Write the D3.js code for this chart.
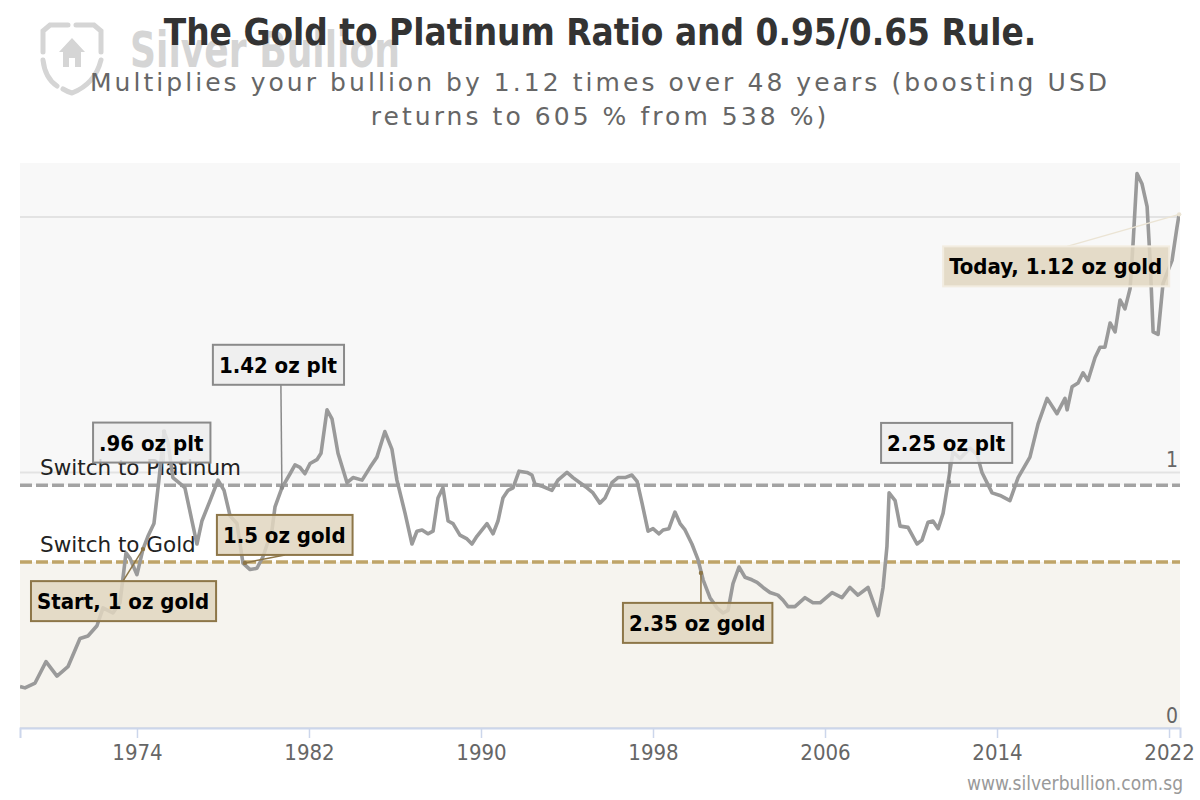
<!DOCTYPE html>
<html><head><meta charset="utf-8">
<script src="https://cdn.jsdelivr.net/npm/d3@7/dist/d3.min.js"></script>
<style>
body{margin:0;background:#fff}
svg{display:block}
text{font-family:"DejaVu Sans Condensed","DejaVu Sans",sans-serif}
</style>
</head><body>
<svg id="chart" width="1200" height="800"></svg>
<script>
// ---------- DATA ----------
const years = [1968.56,1968.79,1969.26,1969.77,1970.28,1970.79,1971.35,1971.72,1972.14,1972.42,1972.88,1973.21,1973.49,1973.67,1974.00,1974.28,1974.51,1974.79,1975.02,1975.26,1975.44,1975.67,1976.09,1976.23,1976.56,1976.79,1977.02,1977.40,1977.77,1978.05,1978.33,1978.65,1978.93,1979.26,1979.58,1979.86,1980.28,1980.42,1980.74,1981.12,1981.35,1981.58,1981.81,1982.05,1982.37,1982.56,1982.84,1983.07,1983.35,1983.77,1984.05,1984.47,1984.84,1985.16,1985.53,1985.86,1986.09,1986.47,1986.79,1987.02,1987.26,1987.53,1987.77,1988.00,1988.23,1988.47,1988.70,1989.02,1989.35,1989.58,1989.81,1990.28,1990.56,1990.79,1991.02,1991.26,1991.49,1991.77,1992.14,1992.37,1992.51,1992.88,1993.30,1993.58,1994.00,1994.28,1994.60,1994.93,1995.21,1995.53,1995.77,1996.09,1996.37,1996.70,1997.02,1997.26,1997.49,1997.77,1998.00,1998.28,1998.47,1998.74,1999.02,1999.26,1999.49,1999.81,2000.09,2000.33,2000.65,2000.98,2001.26,2001.49,2001.72,2002.00,2002.28,2002.60,2002.84,2003.12,2003.44,2003.81,2004.05,2004.28,2004.60,2005.07,2005.44,2005.77,2006.33,2006.79,2007.16,2007.53,2008.00,2008.47,2008.70,2008.88,2008.98,2009.26,2009.49,2009.86,2010.28,2010.51,2010.79,2011.02,2011.26,2011.49,2011.72,2011.95,2012.28,2012.74,2013.07,2013.30,2013.77,2014.14,2014.60,2014.98,2015.53,2015.91,2016.33,2016.79,2017.16,2017.26,2017.49,2017.77,2018.00,2018.23,2018.56,2018.79,2019.02,2019.26,2019.49,2019.72,2019.95,2020.19,2020.33,2020.51,2020.74,2020.98,2021.12,2021.26,2021.49,2021.72,2022.14,2022.37,2022.47];
const ratio = [0.162,0.157,0.176,0.26,0.203,0.24,0.35,0.36,0.40,0.47,0.45,0.49,0.685,0.665,0.60,0.70,0.75,0.80,0.97,1.16,1.12,0.98,0.95,0.94,0.81,0.72,0.81,0.89,0.97,0.93,0.83,0.80,0.645,0.62,0.625,0.67,0.775,0.865,0.94,0.995,1.03,1.02,0.995,1.035,1.05,1.075,1.245,1.21,1.075,0.96,0.98,0.97,1.02,1.06,1.16,1.09,0.97,0.84,0.72,0.77,0.775,0.76,0.77,0.90,0.94,0.81,0.80,0.755,0.74,0.72,0.75,0.80,0.76,0.81,0.90,0.93,0.94,1.005,1.00,0.99,0.955,0.945,0.93,0.97,1.00,0.98,0.96,0.94,0.92,0.88,0.90,0.96,0.98,0.98,0.99,0.965,0.88,0.77,0.78,0.76,0.775,0.78,0.845,0.80,0.775,0.72,0.66,0.58,0.51,0.47,0.45,0.46,0.565,0.63,0.59,0.58,0.57,0.55,0.53,0.52,0.50,0.475,0.475,0.51,0.49,0.49,0.53,0.51,0.55,0.52,0.55,0.44,0.55,0.71,0.92,0.89,0.79,0.785,0.72,0.735,0.805,0.81,0.78,0.84,0.96,1.08,1.055,1.095,1.07,1.00,0.92,0.91,0.89,0.98,1.06,1.19,1.29,1.23,1.29,1.245,1.335,1.35,1.39,1.36,1.45,1.49,1.49,1.585,1.55,1.675,1.64,1.72,1.90,2.17,2.13,2.04,1.83,1.55,1.54,1.74,1.83,1.96,2.01];
const xTickYears = [1974,1982,1990,1998,2006,2014,2022];
const yGridValues = [0,1,2];
const yTickLabels = [0,1];
const switchLevels = [0.95,0.65];
const switchLabels = ["Switch to Platinum","Switch to Gold"];
const annoTexts  = ["Start, 1 oz gold",".96 oz plt","1.42 oz plt","1.5 oz gold","2.35 oz gold","2.25 oz plt","Today, 1.12 oz gold"];
const annoYears  = [1974.28,1975.26,1980.74,1979.02,2000.23,2011.77,2022.47];
const annoValues = [0.70,1.16,0.94,0.646,0.607,0.963,2.01];
const annoKinds  = ["gold","plt","plt","gold","gold","plt","today"];
const titleText = "The Gold to Platinum Ratio and 0.95/0.65 Rule.";
const subtitleLines = ["Multiplies your bullion by 1.12 times over 48 years (boosting USD","returns to 605 % from 538 %)"];
const creditText = "www.silverbullion.com.sg";

// ---------- LAYOUT (pixels, not data) ----------
const plot = {left:20,right:1180,top:163,bottom:728};
const annoLayout = [
  {dx:-112,dy:32,cx:92},
  {dx:-71,dy:-9,cx:71},
  {dx:-69,dy:-143,cx:68},
  {dx:-28,dy:-48,cx:68},
  {dx:-78,dy:30,cx:78},
  {dx:-68,dy:-59,cx:68},
  {dx:-236,dy:32,cx:124}
];
const styles = {
  gold:{fill:"#e1d6bf",stroke:"#8d7648",conn:"#8d7648",op:0.85},
  plt:{fill:"#ededed",stroke:"#8a8a8a",conn:"#8a8a8a",op:0.85},
  today:{fill:"#e1d6bf",stroke:"#f2ece0",conn:"#ebe4d4",op:0.85}
};

const svg = d3.select("#chart");
const x = d3.scaleLinear().domain([1968.56,2022.51]).range([plot.left,plot.right]);
const y = d3.scaleLinear().domain([0,2.211]).range([plot.bottom,plot.top]);

// watermark
const wmc = "#d5d5d5";
const wm = svg.append("g").attr("fill","none").attr("stroke",wmc).attr("stroke-width",5).attr("stroke-linecap","round");
wm.append("path").attr("d","M68,25 L50,25 L43,31 L43,52");
wm.append("path").attr("d","M76,25 L94,25 L101,31 L101,52");
wm.append("path").attr("d","M43,60 Q45,78 57,86");
wm.append("path").attr("d","M63,89 Q68,92 72,93 Q95,84 101,60");
svg.append("path").attr("fill",wmc).attr("d","M72,38 L59,52 L63,52 L63,67 L69,67 L69,58 L75,58 L75,67 L81,67 L81,52 L85,52 Z");
svg.append("text").attr("x",130).attr("y",67).attr("font-size",50).attr("font-weight","bold")
  .attr("textLength",270).attr("lengthAdjust","spacingAndGlyphs")
  .attr("fill",wmc).style("font-family","'DejaVu Sans'").text("Silver Bullion");

// title
svg.append("text").attr("x",600).attr("y",45).attr("text-anchor","middle").attr("font-size",36.6)
  .attr("font-weight","bold").attr("fill","#333").text(titleText);
svg.append("g").selectAll("text").data(subtitleLines).join("text")
  .attr("x",600).attr("y",(d,i)=>91+i*34).attr("text-anchor","middle").attr("font-size",25)
  .attr("letter-spacing",3.05).attr("fill","#666").style("font-family","'DejaVu Sans'").text(d=>d);

// plot bands
svg.append("rect").attr("x",plot.left).attr("width",plot.right-plot.left)
  .attr("y",plot.top).attr("height",y(switchLevels[0])-plot.top).attr("fill","#f8f8f8");
svg.append("rect").attr("x",plot.left).attr("width",plot.right-plot.left)
  .attr("y",y(switchLevels[1])).attr("height",plot.bottom-y(switchLevels[1])).attr("fill","#f6f4ef");

// grid
svg.append("g").selectAll("line").data(yGridValues).join("line")
  .attr("x1",plot.left).attr("x2",plot.right).attr("y1",d=>y(d)).attr("y2",d=>y(d))
  .attr("stroke","#e3e3e3").attr("stroke-width",2);

// y labels
svg.append("g").selectAll("text").data(yTickLabels).join("text")
  .attr("x",plot.right-2).attr("y",d=>y(d)-5).attr("text-anchor","end")
  .attr("font-size",21).attr("fill","#666").text(d=>d);

// switch lines
const swColors = ["#a3a3a3","#bfa468"];
svg.append("g").selectAll("line").data(switchLevels).join("line")
  .attr("x1",plot.left).attr("x2",plot.right).attr("y1",d=>y(d)).attr("y2",d=>y(d))
  .attr("stroke",(d,i)=>swColors[i]).attr("stroke-width",3.5).attr("stroke-dasharray","12,4");
svg.append("g").selectAll("text").data(switchLabels).join("text")
  .attr("x",plot.left+20).attr("y",(d,i)=>y(switchLevels[i])-10)
  .attr("font-size",21.5).attr("fill","#222").style("font-family","'DejaVu Sans'").text(d=>d);

// x axis
const xAxis = d3.axisBottom(x).tickValues(xTickYears).tickFormat(d3.format("d")).tickSize(10).tickPadding(6);
const gx = svg.append("g").attr("transform",`translate(0,${plot.bottom})`).call(xAxis);
gx.select(".domain").attr("stroke","#ccd6eb").attr("stroke-width",2);
gx.selectAll(".tick line").attr("stroke","#ccd6eb").attr("stroke-width",1.5);
gx.selectAll(".tick text").attr("font-size",22).attr("fill","#666").style("font-family","'DejaVu Sans Condensed','DejaVu Sans',sans-serif");

// series
const clipId="clipPlot";
svg.append("clipPath").attr("id",clipId).append("rect")
  .attr("x",plot.left).attr("y",plot.top).attr("width",plot.right-plot.left).attr("height",plot.bottom-plot.top);
const line = d3.line().x((d,i)=>x(years[i])).y(d=>y(d));
svg.append("path").datum(ratio).attr("clip-path",`url(#${clipId})`)
  .attr("d",line).attr("fill","none").attr("stroke","#9a9a9a").attr("stroke-width",3.6)
  .attr("stroke-linejoin","round");

// annotations
const ag = svg.append("g");
annoTexts.forEach((t,i)=>{
  const st = styles[annoKinds[i]];
  const L = annoLayout[i];
  const ax = x(annoYears[i]), ay = y(annoValues[i]);
  const bx = ax+L.dx, by = ay+L.dy, bh = 40;
  const g = ag.append("g");
  const txt = g.append("text").attr("x",bx+6).attr("y",by+28).attr("font-size",22)
    .attr("font-weight","bold").attr("fill","#000").text(t);
  const w = txt.node().getComputedTextLength()+13;
  const attachY = (by>ay)? by : by+bh;
  g.insert("line","text").attr("x1",bx+L.cx).attr("y1",attachY).attr("x2",ax).attr("y2",ay)
    .attr("stroke",st.conn).attr("stroke-width",1.5);
  g.insert("circle","text").attr("cx",ax).attr("cy",ay).attr("r",2.2).attr("fill",st.conn);
  g.insert("rect","text").attr("x",bx).attr("y",by).attr("width",w).attr("height",bh)
    .attr("fill",st.fill).attr("fill-opacity",st.op).attr("stroke",st.stroke).attr("stroke-width",2);
});

// credits
svg.append("text").attr("x",1183).attr("y",790).attr("text-anchor","end").attr("font-size",19)
  .attr("fill","#999").text(creditText);
</script>
</body></html>
